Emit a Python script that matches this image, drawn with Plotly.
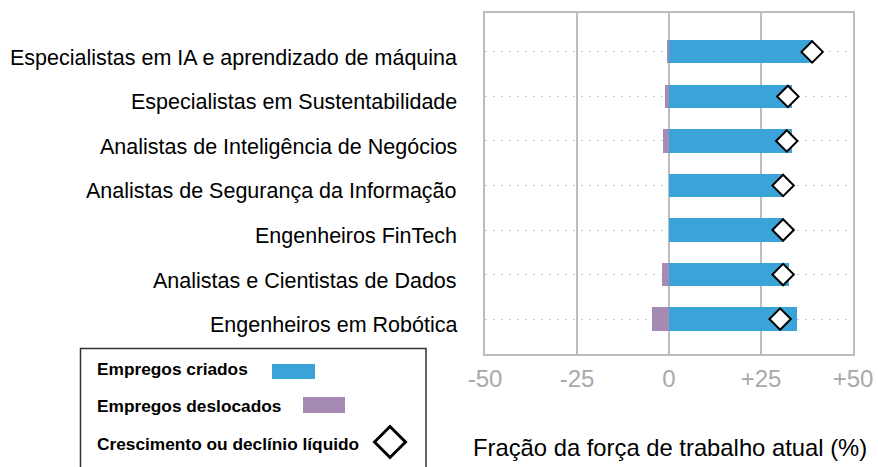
import plotly.graph_objects as go

categories = [
    "Especialistas em IA e aprendizado de máquina",
    "Especialistas em Sustentabilidade",
    "Analistas de Inteligência de Negócios",
    "Analistas de Segurança da Informação",
    "Engenheiros FinTech",
    "Analistas e Cientistas de Dados",
    "Engenheiros em Robótica",
]
created = [39.1, 33.4, 33.4, 31.0, 31.0, 32.7, 34.8]
displaced = [-0.5, -1.1, -1.6, 0.0, 0.0, -1.9, -4.6]
net = [38.9, 32.3, 32.0, 31.0, 31.0, 31.0, 30.2]
x_ticks = [-50, -25, 0, 25, 50]
x_tick_labels = ["-50", "-25", "0", "+25", "+50"]

BLUE = "#3AA4D8"
PURPLE = "#A58AB4"
FONT = "Arial, Liberation Sans, sans-serif"

fig = go.Figure()
fig.add_trace(go.Bar(y=categories, x=displaced, base=0, orientation="h",
                     marker=dict(color=PURPLE, line=dict(width=0)), width=0.52,
                     showlegend=False))
fig.add_trace(go.Bar(y=categories, x=created, base=0, orientation="h",
                     marker=dict(color=BLUE, line=dict(width=0)), width=0.52,
                     showlegend=False))
fig.add_trace(go.Scatter(y=categories, x=net, mode="markers",
                         marker=dict(symbol="diamond", size=16.5, color="white",
                                     line=dict(color="black", width=2)),
                         showlegend=False))

L, R, T, B = 485, 25, 13, 113
W, H = 878, 467
pw = W - L - R
ph = H - T - B

def px(x):
    return (x - L) / pw

def py(y):
    return (H - B - y) / ph

fig.update_layout(
    width=W, height=H,
    margin=dict(l=L, r=R, t=T, b=B, pad=0, autoexpand=False),
    barmode="overlay",
    plot_bgcolor="white", paper_bgcolor="white",
    font=dict(family=FONT, color="black"),
    xaxis=dict(range=[-50, 50], tickvals=x_ticks, ticktext=x_tick_labels,
               tickfont=dict(size=24, color="#a9a9a9", family=FONT),
               showgrid=True, gridcolor="#bdbdbd", gridwidth=1.5,
               zeroline=False, showline=True, linecolor="#bdbdbd", linewidth=1.5,
               mirror=True, ticks="", ticklabelstandoff=2, fixedrange=True,
               automargin=False),
    yaxis=dict(categoryorder="array", categoryarray=categories,
               range=[6.785, -0.874], showticklabels=False,
               showgrid=True, gridcolor="#c8c8c8", gridwidth=1.2, griddash="2px,6px",
               zeroline=False, showline=True, linecolor="#bdbdbd", linewidth=1.5,
               mirror=True, ticks="", fixedrange=True,
               automargin=False),
    bargap=0,
)

# category labels (slightly below each row's centre, as in the reference)
for cat in categories:
    fig.add_annotation(text=cat, xref="paper", yref="y", x=px(459), y=cat,
                       xanchor="right", yanchor="middle", yshift=-6, showarrow=False,
                       font=dict(size=21.5, family=FONT, color="black"))

# axis title
fig.add_annotation(text="Fração da força de trabalho atual (%)", xref="paper", yref="paper",
                   x=px(670), y=py(447), xanchor="center", yanchor="middle",
                   showarrow=False, font=dict(size=23.8, family=FONT, color="black"))

# legend box
fig.add_shape(type="rect", xref="paper", yref="paper",
              x0=px(80.5), x1=px(426), y0=py(348.5), y1=py(475),
              line=dict(color="#333333", width=1.5), fillcolor="white", layer="above")

legend_items = [("Empregos criados", 369), ("Empregos deslocados", 406),
                ("Crescimento ou declínio líquido", 444)]
for txt, yy in legend_items:
    fig.add_annotation(text="<b>%s</b>" % txt, xref="paper", yref="paper",
                       x=px(95), y=py(yy), xanchor="left", yanchor="middle",
                       showarrow=False, font=dict(size=17.3, family=FONT, color="black"))

fig.add_shape(type="rect", xref="paper", yref="paper",
              x0=px(272), x1=px(315), y0=py(364), y1=py(379),
              line=dict(width=0), fillcolor=BLUE, layer="above")
fig.add_shape(type="rect", xref="paper", yref="paper",
              x0=px(303), x1=px(345), y0=py(397), y1=py(413),
              line=dict(width=0), fillcolor=PURPLE, layer="above")
cx, cy, r = 390, 442, 15.5
fig.add_shape(type="path", xref="paper", yref="paper",
              path="M %f,%f L %f,%f L %f,%f L %f,%f Z" % (
                  px(cx - r), py(cy), px(cx), py(cy - r), px(cx + r), py(cy), px(cx), py(cy + r)),
              line=dict(color="black", width=3), fillcolor="white", layer="above")

fig.write_html("out.html", config={"displayModeBar": False},
               post_script="document.body.style.margin='0';document.body.style.overflow='hidden';")
